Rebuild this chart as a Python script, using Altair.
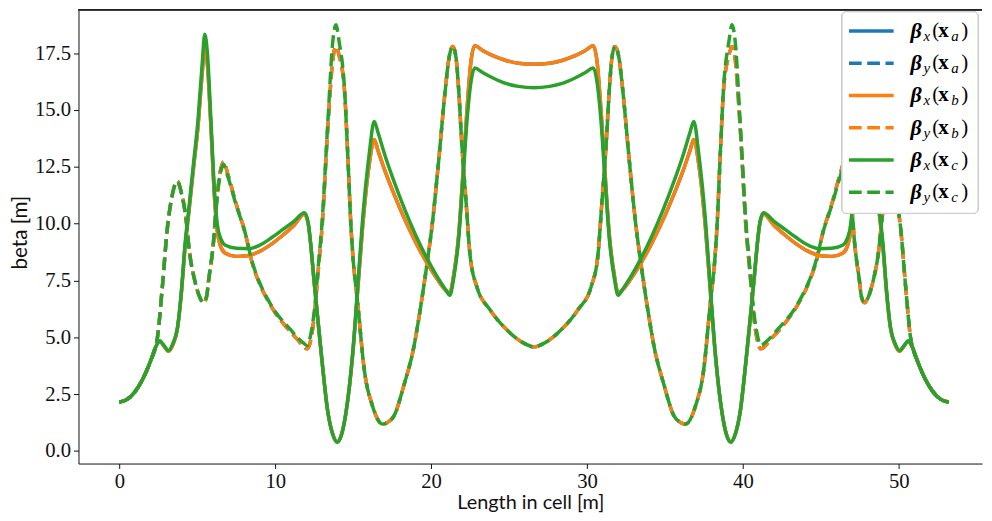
import altair as alt
import pandas as pd

# ---------------- data ----------------
# green solid: beta_x(x_c)
S_BX_C = [0.0, 0.5, 1.0, 1.5, 2.0, 2.35, 2.6, 2.85, 3.15, 3.45, 3.72, 4.0, 4.2, 4.45, 4.75, 5.05, 5.3, 5.48, 5.65, 5.88,
          6.1, 6.28, 6.5, 6.8, 7.5, 8.3, 9.0, 9.8, 10.5, 11.2, 11.88, 12.1, 12.53, 12.95, 13.38, 13.7, 13.97, 14.25,
          14.54, 14.97, 15.29, 15.6, 16.03, 16.35, 16.6, 17.0, 17.62, 18.3, 19.0, 19.75, 20.4, 20.9, 21.2, 21.45,
          21.76, 22.05, 22.3, 22.55, 22.8, 23.3, 24.0, 24.8, 25.6, 26.6,
          27.6, 28.4, 29.2, 29.9, 30.4, 30.65, 30.9, 31.15, 31.44, 31.75, 32.0, 32.3, 32.8, 33.45, 34.2, 34.9, 35.58,
          36.2, 36.6, 36.85, 37.17, 37.6, 37.91, 38.23, 38.66, 38.95, 39.23, 39.5, 39.82, 40.25, 40.67, 41.1, 41.32,
          42.0, 42.7, 43.4, 44.2, 44.9, 45.7, 46.4, 46.7, 46.92, 47.1, 47.32, 47.55, 47.72, 47.9, 48.15, 48.45, 48.75,
          49.0, 49.2, 49.48, 49.75, 50.05, 50.35, 50.6, 50.85, 51.2, 51.7, 52.2, 52.7, 53.2]
BX_C = [2.15, 2.27, 2.60, 3.16, 3.95, 4.60, 4.85, 4.65, 4.42, 4.75, 5.40, 7.20, 9.00, 10.60, 12.60, 14.60, 16.90, 18.33,
        17.50, 14.50, 11.50, 10.00, 9.35, 9.05, 8.92, 8.90, 9.05, 9.40, 9.75, 10.10, 10.48, 10.10, 7.23, 4.32, 1.69,
        0.70, 0.38, 0.70, 1.69, 4.32, 7.23, 10.15, 13.07, 14.50, 14.00, 13.09, 11.86, 10.64, 9.51, 8.45, 7.66, 7.13,
        6.85, 7.60, 9.27, 12.00, 14.50, 16.20, 16.85, 16.65, 16.40, 16.17, 16.04, 15.98,
        16.04, 16.17, 16.40, 16.65, 16.85, 16.20, 14.50, 12.00, 9.27, 7.60, 6.85, 7.13, 7.66, 8.45, 9.51, 10.64, 11.86,
        13.09, 14.00, 14.50, 13.07, 10.15, 7.23, 4.32, 1.69, 0.70, 0.38, 0.70, 1.69, 4.32, 7.23, 10.10, 10.48, 10.10,
        9.75, 9.40, 9.05, 8.90, 8.92, 9.05, 9.35, 10.00, 11.50, 14.50, 17.50, 18.33, 16.90, 14.60, 12.60, 10.60, 9.00,
        7.20, 5.40, 4.75, 4.42, 4.65, 4.85, 4.60, 3.95, 3.16, 2.60, 2.27, 2.15]

# orange solid: beta_x(x_b)
S_BX_B = S_BX_C
BX_B = [2.15, 2.27, 2.60, 3.16, 3.95, 4.60, 4.82, 4.62, 4.38, 4.70, 5.35, 7.10, 8.85, 10.45, 12.40, 14.30, 16.50, 17.80,
        17.00, 14.20, 11.20, 9.70, 9.00, 8.70, 8.56, 8.60, 8.78, 9.12, 9.50, 9.92, 10.42, 10.05, 7.20, 4.30, 1.69,
        0.72, 0.40, 0.72, 1.69, 4.25, 7.05, 9.80, 12.60, 13.70, 13.20, 12.40, 11.30, 10.20, 9.20, 8.25, 7.55, 7.10,
        6.95, 7.75, 9.45, 12.30, 15.00, 17.10, 17.83, 17.62, 17.38, 17.18, 17.06, 17.02,
        17.06, 17.18, 17.38, 17.62, 17.83, 17.10, 15.00, 12.30, 9.45, 7.75, 6.95, 7.10, 7.55, 8.25, 9.20, 10.20, 11.30,
        12.40, 13.20, 13.70, 12.60, 9.80, 7.05, 4.25, 1.69, 0.72, 0.40, 0.72, 1.69, 4.30, 7.20, 10.05, 10.42, 9.92,
        9.50, 9.12, 8.78, 8.60, 8.56, 8.70, 9.00, 9.70, 11.20, 14.20, 17.00, 17.80, 16.50, 14.30, 12.40, 10.45, 8.85,
        7.10, 5.35, 4.70, 4.38, 4.62, 4.82, 4.60, 3.95, 3.16, 2.60, 2.27, 2.15]

# green dashed: beta_y(x_c)
S_BY_C = [0.0, 0.5, 1.0, 1.5, 2.0, 2.44, 2.76, 3.08, 3.35, 3.72, 4.0, 4.29, 4.46, 4.88, 5.2, 5.4, 5.6, 5.73, 6.05, 6.2,
          6.45, 6.69, 6.95, 7.5, 8.07, 8.49, 9.0, 9.5, 9.98, 10.5, 10.9, 11.46, 11.8, 12.05, 12.3, 12.53, 12.74, 13.0,
          13.38, 13.69, 13.9, 14.1, 14.44, 14.65, 14.86, 14.97, 15.29, 15.71, 16.24, 16.88, 17.2, 17.62, 18.26, 18.9,
          19.32, 19.75, 20.06, 20.49, 20.91, 21.15, 21.4, 21.6, 21.76, 21.97, 22.25, 22.5, 22.93, 23.78, 24.84, 25.9,
          26.6,
          27.3, 28.36, 29.42, 30.27, 30.7, 30.95, 31.23, 31.44, 31.6, 31.8, 32.05, 32.29, 32.71, 33.14, 33.45, 33.88,
          34.3, 34.94, 35.58, 36.0, 36.32, 36.96, 37.49, 37.91, 38.23, 38.34, 38.55, 38.76, 39.1, 39.3, 39.51, 39.82,
          40.2, 40.46, 40.67, 40.9, 41.15, 41.4, 41.74, 42.3, 42.7, 43.22, 43.7, 44.2, 44.71, 45.13, 45.7, 46.25,
          46.51, 46.75, 47.0, 47.15, 47.47, 47.6, 47.8, 48.0, 48.32, 48.74, 48.91, 49.2, 49.48, 49.85, 50.12, 50.44,
          50.76, 51.2, 51.7, 52.2, 52.7, 53.2]
BY_C = [2.15, 2.27, 2.60, 3.16, 3.95, 4.97, 7.23, 9.80, 11.10, 11.85, 11.30, 10.15, 8.98, 7.38, 6.70, 6.52, 6.80, 7.52,
        9.27, 10.60, 12.10, 12.60, 12.10, 10.80, 9.60, 8.40, 7.40, 6.70, 6.15, 5.70, 5.40, 4.97, 4.75, 4.64, 5.20,
        6.30, 7.96, 10.00, 14.52, 18.00, 18.75, 18.00, 15.98, 13.07, 9.86, 8.69, 6.50, 3.59, 1.98, 1.18, 1.25, 1.54,
        2.90, 4.60, 6.30, 8.30, 9.90, 12.80, 15.90, 17.30, 17.80, 17.30, 15.98, 13.50, 10.88, 8.60, 7.23, 6.21, 5.34,
        4.76, 4.58,
        4.76, 5.34, 6.21, 7.23, 8.60, 10.88, 13.50, 15.98, 17.30, 17.80, 17.30, 15.90, 12.80, 9.90, 8.30, 6.30, 4.60,
        2.90, 1.54, 1.25, 1.18, 1.98, 3.59, 6.50, 8.69, 9.86, 13.07, 15.98, 18.00, 18.75, 18.00, 14.52, 10.00, 7.96,
        6.30, 5.20, 4.64, 4.75, 4.97, 5.40, 5.70, 6.15, 6.70, 7.40, 8.40, 9.60, 10.80, 12.10, 12.60, 12.10, 10.60,
        9.27, 7.52, 6.80, 6.52, 6.70, 7.38, 8.98, 10.15, 11.30, 11.85, 11.10, 9.80, 7.23, 4.97, 3.95, 3.16, 2.60,
        2.27, 2.15]

# orange dashed: beta_y(x_b)
S_BY_B = S_BY_C
BY_B = [2.15, 2.27, 2.60, 3.16, 3.95, 4.97, 7.23, 9.80, 11.10, 11.88, 11.30, 10.15, 8.98, 7.38, 6.70, 6.52, 6.80, 7.52,
        9.27, 10.65, 12.20, 12.72, 12.20, 10.85, 9.60, 8.35, 7.35, 6.65, 6.10, 5.62, 5.30, 4.88, 4.60, 4.49, 4.95,
        6.10, 7.80, 9.80, 14.30, 17.20, 17.80, 17.40, 15.90, 13.07, 9.86, 8.69, 6.50, 3.59, 1.98, 1.18, 1.25, 1.54,
        2.90, 4.60, 6.30, 8.30, 9.90, 12.80, 15.90, 17.30, 17.80, 17.30, 15.98, 13.50, 10.88, 8.60, 7.23, 6.21, 5.34,
        4.76, 4.58,
        4.76, 5.34, 6.21, 7.23, 8.60, 10.88, 13.50, 15.98, 17.30, 17.80, 17.30, 15.90, 12.80, 9.90, 8.30, 6.30, 4.60,
        2.90, 1.54, 1.25, 1.18, 1.98, 3.59, 6.50, 8.69, 9.86, 13.07, 15.90, 17.40, 17.80, 17.20, 14.30, 9.80, 7.80,
        6.10, 4.95, 4.49, 4.60, 4.88, 5.30, 5.62, 6.10, 6.65, 7.35, 8.35, 9.60, 10.85, 12.20, 12.72, 12.20, 10.65,
        9.27, 7.52, 6.80, 6.52, 6.70, 7.38, 8.98, 10.15, 11.30, 11.88, 11.10, 9.80, 7.23, 4.97, 3.95, 3.16, 2.60,
        2.27, 2.15]

# blue series lie underneath the orange ones
S_BX_A = S_BX_B
BX_A = BX_B
S_BY_A = S_BY_B
BY_A = BY_B

X_TICKS = [0, 10, 20, 30, 40, 50]
Y_TICKS = [0.0, 2.5, 5.0, 7.5, 10.0, 12.5, 15.0, 17.5]

LEG_SUB1 = ["x", "y", "x", "y", "x", "y"]
LEG_SUB2 = ["a", "a", "b", "b", "c", "c"]
LEG_COLORS = ["#1f77b4", "#1f77b4", "#ff7f0e", "#ff7f0e", "#2ca02c", "#2ca02c"]
LEG_DASH = ["solid", "dashed", "solid", "dashed", "solid", "dashed"]

# ---------------- chart ----------------
W, H = 910, 457
LW = 3.5
DASH = [12.8, 5.6]
SERIF = "Liberation Serif"
SANS = "Lato"

xscale = alt.Scale(domain=[-2.62, 55.34], nice=False, zero=False)
yscale = alt.Scale(domain=[-0.555, 19.41], nice=False, zero=False)
xaxis = alt.Axis(values=X_TICKS, format="d", title="Length in cell [m]", grid=False,
                 titleFont=SANS, titleFontSize=20, titleFontWeight="normal",
                 titleBaseline="alphabetic", titleY=45)
yaxis = alt.Axis(values=Y_TICKS, format=".1f", title="beta [m]", grid=False,
                 titleFont=SANS, titleFontSize=20.8, titleFontWeight="normal",
                 titleBaseline="alphabetic", titleX=-52, titleY=224)


def line(s, b, color, dashed):
    df = pd.DataFrame({"s": s, "beta": b})
    kw = dict(color=color, strokeWidth=LW, interpolate="monotone", clip=True)
    if dashed:
        kw["strokeDash"] = DASH
    return alt.Chart(df).mark_line(**kw).encode(
        x=alt.X("s:Q", scale=xscale, axis=xaxis),
        y=alt.Y("beta:Q", scale=yscale, axis=yaxis),
    )


main = alt.layer(
    line(S_BX_A, BX_A, "#1f77b4", False),
    line(S_BY_A, BY_A, "#1f77b4", True),
    line(S_BX_B, BX_B, "#ff7f0e", False),
    line(S_BY_B, BY_B, "#ff7f0e", True),
    line(S_BX_C, BX_C, "#2ca02c", False),
    line(S_BY_C, BY_C, "#2ca02c", True),
)

leg = pd.DataFrame({"i": list(range(6)), "sub1": LEG_SUB1, "sub2": LEG_SUB2,
                    "col": LEG_COLORS, "dash": LEG_DASH})
legy = alt.Y("i:Q", scale=alt.Scale(domain=[0, 5], range=[21.3, 183.7]), axis=None)

top_spine = alt.Chart(leg).mark_rule(color="#222222", strokeWidth=1).encode(
    x=alt.value(0), x2=alt.value(W), y=alt.value(0))
frame = alt.Chart(leg).mark_rect(fill="white", fillOpacity=0.8, stroke="#cccccc", strokeWidth=1,
                                 cornerRadius=4).encode(
    x=alt.value(769), x2=alt.value(906), y=alt.value(2), y2=alt.value(205))
handles = alt.Chart(leg).mark_rule(strokeWidth=LW).encode(
    x=alt.value(776), x2=alt.value(821), y=legy,
    color=alt.Color("col:N", scale=None),
    strokeDash=alt.StrokeDash("dash:N", scale=alt.Scale(domain=["solid", "dashed"], range=[[1, 0], DASH]),
                              legend=None),
)


def piece(xpos, size, text=None, field=None, weight="normal", style="normal", dy=0):
    kw = dict(align="left", baseline="middle", font=SERIF, fontSize=size, fontWeight=weight,
              fontStyle=style, color="black", dy=dy)
    if text is not None:
        kw["text"] = text
    ch = alt.Chart(leg).mark_text(**kw)
    enc = dict(x=alt.value(xpos), y=legy)
    if field is not None:
        enc["text"] = alt.Text(field + ":N")
    return ch.encode(**enc)


legend = alt.layer(
    top_spine, frame, handles,
    piece(838, 22, text="β", weight="bold", style="italic"),
    piece(851, 15, field="sub1", style="italic", dy=5),
    piece(860, 21, text="("),
    piece(866, 21, text="x", weight="bold"),
    piece(879, 15, field="sub2", style="italic", dy=5),
    piece(889, 21, text=")"),
)

chart = alt.layer(main, legend).resolve_scale(y="independent").properties(
    width=W, height=H,
    autosize=alt.AutoSizeParams(type="none"),
    padding={"left": 71, "top": 0, "right": 2, "bottom": 48},
).configure_view(strokeWidth=0).configure_axis(
    labelFont=SERIF, labelFontSize=20.8, labelColor="#111111", labelPadding=3,
    tickSize=5, tickColor="#111111", domainColor="#111111", domainWidth=1, tickWidth=1,
    titleColor="#111111",
)

chart.save("out.html", embed_options={"renderer": "svg", "actions": False})
